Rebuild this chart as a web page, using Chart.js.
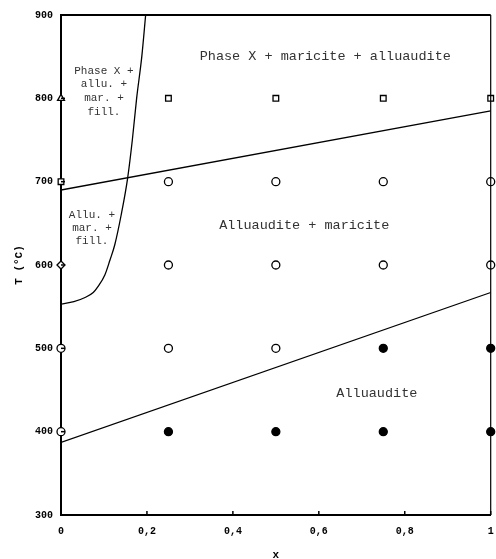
<!DOCTYPE html>
<html>
<head>
<meta charset="utf-8">
<script src="https://cdn.jsdelivr.net/npm/chart.js@4.4.1/dist/chart.umd.min.js"></script>
<style>
html, body { margin: 0; padding: 0; background: #fff; }
#wrap { width: 496px; height: 559px; }
</style>
</head>
<body>
<div id="wrap"><canvas id="phase_canvas_id"></canvas></div>
<script>
// samples, grouped by the phases found
var openCircles = [[0,400],[0,500],[0.25,500],[0.25,600],[0.25,700],[0.5,500],[0.5,600],[0.5,700],[0.75,600],[0.75,700],[1,600],[1,700]];
var filledCircles = [[0.25,400],[0.5,400],[0.75,400],[0.75,500],[1,400],[1,500]];
var openSquares = [[0,700],[0.25,800],[0.5,800],[0.75,800],[1,800]];
var openDiamonds = [[0,600]];
var openTriangles = [[0,800]];

// phase boundaries
var lowerLine = [[0,387],[1,567]];
var upperLine = [[0,690],[1,785]];
var curveLine = [[0,553],[0.03,556],[0.056,561],[0.075,567],[0.086,574],[0.102,588],[0.114,606],[0.125,624],[0.14,660],[0.155,704],[0.166,750],[0.176,800],[0.188,850],[0.197,900]];

var xTicks = [0, 0.2, 0.4, 0.6, 0.8, 1];
var yTicks = [300, 400, 500, 600, 700, 800, 900];

// region labels: [x, T, text, size]
var regionLabels = [
  [0.615, 850, 'Phase X + maricite + alluaudite', 13.5],
  [0.1, 833, 'Phase X +', 11],
  [0.1, 817, 'allu. +', 11],
  [0.1, 800, 'mar. +', 11],
  [0.1, 784, 'fill.', 11],
  [0.072, 660, 'Allu. +', 11],
  [0.072, 644, 'mar. +', 11],
  [0.072, 629, 'fill.', 11],
  [0.566, 648, 'Alluaudite + maricite', 13.5],
  [0.735, 446, 'Alluaudite', 13.5]
];

function pts(arr) {
  return arr.map(function(p) { return {x: p[0], y: p[1]}; });
}

function markers(arr, style, fill) {
  return {
    data: pts(arr),
    showLine: false,
    pointStyle: style,
    pointRadius: 4,
    pointBorderWidth: 1.3,
    pointBorderColor: '#000',
    pointBackgroundColor: fill,
    clip: false,
    order: 1
  };
}

function boundary(arr) {
  return {
    data: pts(arr),
    showLine: true,
    borderColor: '#000',
    borderWidth: 1.3,
    pointRadius: 0,
    cubicInterpolationMode: 'monotone',
    order: 2
  };
}

var extras = {
  id: 'extras',
  afterDraw: function(chart) {
    var ctx = chart.ctx;
    var a = chart.chartArea;
    var xs = chart.scales.x, ys = chart.scales.y;
    ctx.save();
    ctx.strokeStyle = '#000';
    // top and right frame
    ctx.lineWidth = 2;
    ctx.beginPath();
    ctx.moveTo(a.left, a.top);
    ctx.lineTo(a.right, a.top);
    ctx.stroke();
    ctx.lineWidth = 1.2;
    ctx.beginPath();
    ctx.moveTo(a.right, a.top);
    ctx.lineTo(a.right, a.bottom);
    ctx.stroke();
    // inward tick marks
    ctx.lineWidth = 1.5;
    xTicks.forEach(function(v) {
      var px = xs.getPixelForValue(v);
      ctx.beginPath();
      ctx.moveTo(px, a.bottom);
      ctx.lineTo(px, a.bottom - 4);
      ctx.stroke();
    });
    yTicks.forEach(function(v) {
      var py = ys.getPixelForValue(v);
      ctx.beginPath();
      ctx.moveTo(a.left, py);
      ctx.lineTo(a.left + 4, py);
      ctx.stroke();
    });
    // region labels
    ctx.fillStyle = '#333';
    ctx.textAlign = 'center';
    ctx.textBaseline = 'middle';
    regionLabels.forEach(function(l) {
      ctx.font = l[3] + 'px "Liberation Mono", monospace';
      ctx.fillText(l[2], xs.getPixelForValue(l[0]), ys.getPixelForValue(l[1]));
    });
    ctx.restore();
  }
};

var tickFont = {family: '"Liberation Mono", monospace', size: 10, weight: 'bold'};
var titleFont = {family: '"Liberation Mono", monospace', size: 11, weight: 'bold'};

var ctx = document.getElementById('phase_canvas_id').getContext('2d');
var phaseChart = new Chart(ctx, {
  type: 'scatter',
  data: {
    datasets: [
      boundary(lowerLine),
      boundary(upperLine),
      boundary(curveLine),
      markers(openCircles, 'circle', '#fff'),
      markers(filledCircles, 'circle', '#000'),
      markers(openSquares, 'rect', '#fff'),
      markers(openDiamonds, 'rectRot', '#fff'),
      markers(openTriangles, 'triangle', '#fff')
    ]
  },
  options: {
    responsive: true,
    maintainAspectRatio: false,
    animation: false,
    layout: {padding: {left: 0, right: 4, top: 15, bottom: 0}},
    plugins: {legend: {display: false}, tooltip: {enabled: false}},
    scales: {
      x: {
        type: 'linear',
        min: 0,
        max: 1,
        afterBuildTicks: function(s) { s.ticks = xTicks.map(function(v) { return {value: v}; }); },
        afterFit: function(s) { s.height = 44; s.paddingLeft = 0; s.paddingRight = 0; },
        grid: {display: true, drawOnChartArea: false, drawTicks: false},
        border: {display: true, width: 2, color: '#000'},
        ticks: {
          font: tickFont,
          color: '#000',
          padding: 10,
          maxRotation: 0,
          callback: function(v) { return String(v).replace('.', ','); }
        },
        title: {display: true, text: 'x', font: titleFont, color: '#000', padding: {top: 0, bottom: -3}}
      },
      y: {
        type: 'linear',
        min: 300,
        max: 900,
        afterBuildTicks: function(s) { s.ticks = yTicks.map(function(v) { return {value: v}; }); },
        afterFit: function(s) { s.width = 61; s.paddingTop = 0; s.paddingBottom = 0; },
        grid: {display: true, drawOnChartArea: false, drawTicks: false},
        border: {display: true, width: 2, color: '#000'},
        ticks: {font: tickFont, color: '#000', padding: 8},
        title: {display: true, text: 'T (°C)', font: titleFont, color: '#000', padding: {top: 13, bottom: 0}}
      }
    }
  },
  plugins: [extras]
});
</script>
</body>
</html>
